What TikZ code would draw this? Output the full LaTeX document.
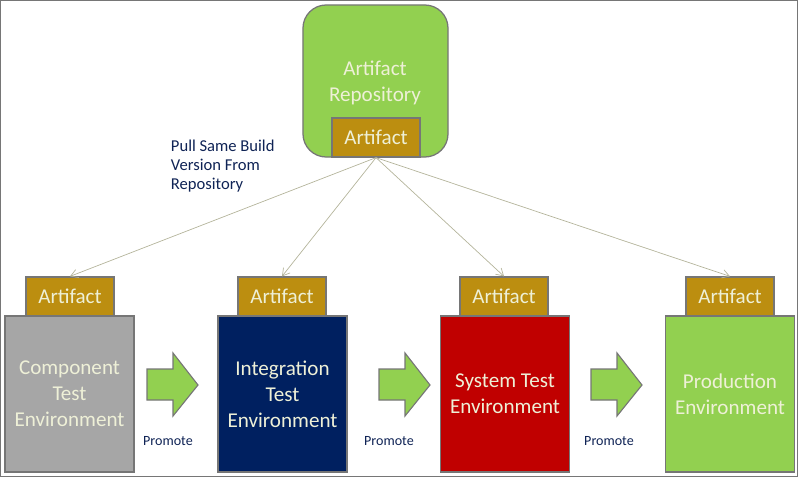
\documentclass[tikz,border=0pt]{standalone}
\usepackage{fontspec}
\setmainfont{Carlito}
\usepackage{xcolor}
\usetikzlibrary{arrows.meta}
\definecolor{repogreen}{RGB}{146,208,80}
\definecolor{artgold}{RGB}{188,142,16}
\definecolor{compgray}{RGB}{166,166,166}
\definecolor{intnavy}{RGB}{0,32,96}
\definecolor{sysred}{RGB}{192,0,0}
\definecolor{boxline}{RGB}{118,118,118}
\definecolor{labelblue}{RGB}{15,35,85}
\definecolor{boxtext}{RGB}{238,240,215}
\definecolor{pullline}{RGB}{180,180,155}

\begin{document}
\begin{tikzpicture}[x=0.025cm, y=-0.025cm,
    envbox/.style={draw=boxline, line width=0.9pt, minimum width=3.225cm,
        minimum height=3.9cm, text=boxtext, align=center, inner sep=0pt,
        font=\fontsize{15}{18.4}\selectfont},
    artbox/.style={draw=boxline, line width=0.9pt, fill=artgold,
        minimum width=2.2cm, minimum height=0.975cm, inner sep=0pt,
        text=boxtext, font=\fontsize{15}{18}\selectfont},
    pull/.style={pullline, line width=0.5pt, -{Straight Barb[length=5pt,width=6pt]}},
    promote/.style={draw=boxline, fill=repogreen, line width=0.8pt},
    note/.style={text=labelblue, font=\fontsize{10}{12}\selectfont}]
    \useasboundingbox (0,0) rectangle (800,478);

    % Frame
    \draw[boxline, line width=0.7pt] (0.5,0.5) rectangle (797,476.5);

    % Artifact repository
    \node[draw=boxline, fill=repogreen, line width=0.9pt, rounded corners=0.58cm,
        minimum width=3.625cm, minimum height=3.8cm] (repo) at (375.5,81) {};
    \node[text=boxtext, align=center, font=\fontsize{15}{18.4}\selectfont]
        (repolabel) at (375,83) {Artifact\\Repository};
    \node[artbox] (repoart) at (376,137.5) {Artifact};

    % Environments
    \node[envbox, fill=compgray] (comp) at (69.5,394) {Component\\Test\\Environment};
    \node[envbox, fill=intnavy] (integ) at (282.5,394) {Integration\\Test\\Environment};
    \node[envbox, fill=sysred] (sys) at (505,394) {System Test\\Environment};
    \node[envbox, fill=repogreen] (prod) at (730,394) {Production\\Environment};

    % Artifacts on each environment
    \node[artbox] (compart) at (70,296.5) {Artifact};
    \node[artbox] (integart) at (282,296.5) {Artifact};
    \node[artbox] (sysart) at (504,296.5) {Artifact};
    \node[artbox] (prodart) at (730,296.5) {Artifact};

    % Pull from repository
    \foreach \target in {compart, integart, sysart, prodart}
        \draw[pull] (repoart.south) -- (\target.north);
    \node[text=labelblue, align=left, anchor=west,
        font=\fontsize{11.8}{13.5}\selectfont] (pulllabel) at (166,166)
        {Pull Same Build\\Version From\\Repository};

    % Promote arrows
    \foreach \x in {147,379,591}
        \draw[promote] (\x,369) -- ++(26,0) -- ++(0,-16) -- ++(25,32)
            -- ++(-25,31) -- ++(0,-16) -- ++(-26,0) -- cycle;
    \node[note] (promote1) at (168,441) {Promote};
    \node[note] (promote2) at (389,441) {Promote};
    \node[note] (promote3) at (609,441) {Promote};
\end{tikzpicture}
\end{document}
